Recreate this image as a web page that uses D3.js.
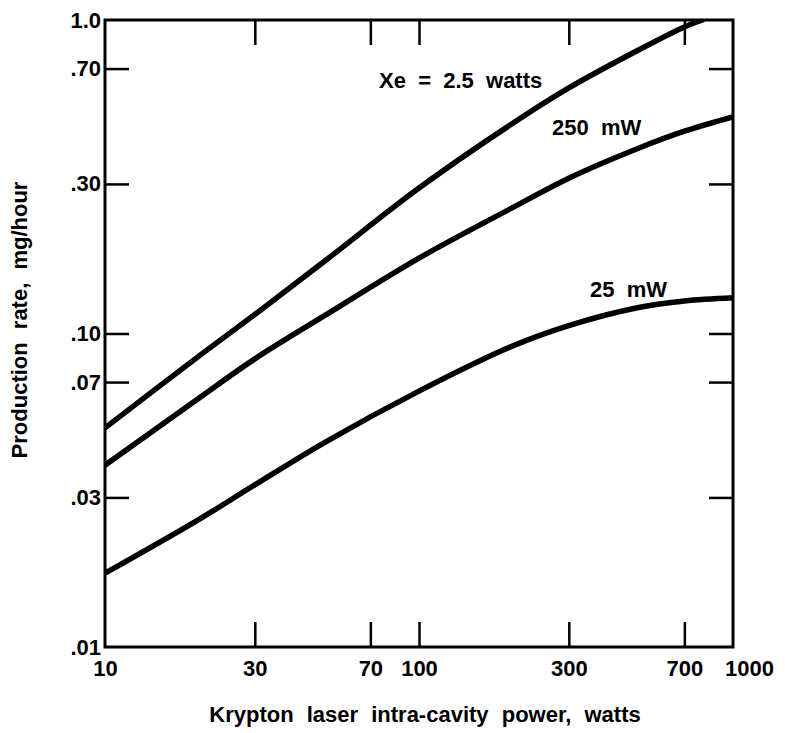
<!DOCTYPE html>
<html>
<head>
<meta charset="utf-8">
<script src="https://cdn.jsdelivr.net/npm/d3@7"></script>
<style>
  body { margin: 0; background: #fff; }
  svg text { font-family: "Liberation Sans", Arial, sans-serif; font-weight: bold; fill: #000; }
  .axis path { display: none; }
  .axis line { stroke: #000; stroke-width: 2.5; }
  .axis text { font-size: 22px; }
</style>
</head>
<body>
<svg id="chart" width="785" height="733"></svg>
<script>
/// data
var powerW = [10, 20, 30, 50, 100, 200, 300, 500, 700, 1000];

var xe2500 = [0.050, 0.085, 0.115, 0.170, 0.291, 0.470, 0.607, 0.802, 0.95, null];
var xe250  = [0.038, 0.0624, 0.083, 0.114, 0.174, 0.253, 0.313, 0.390, 0.442, 0.491];
var xe25   = [0.0172, 0.0256, 0.0329, 0.0449, 0.0655, 0.0915, 0.106, 0.121, 0.127, 0.130];

var xTicks = [10, 30, 70, 100, 300, 700, 1000];
var xTickLabels = ["10", "30", "70", "100", "300", "700", "1000"];
var yTicks = [0.01, 0.03, 0.07, 0.10, 0.30, 0.70, 1.0];
var yTickLabels = [".01", ".03", ".07", ".10", ".30", ".70", "1.0"];

var seriesNames = ["Xe  =  2.5  watts", "250  mW", "25  mW"];

/// layout
var frame = {left: 105, right: 733, top: 20, bottom: 647};
var tickLen = 25;

var svg = d3.select("#chart");

var x = d3.scaleLog().domain([10, 1000]).range([frame.left, frame.right]);
var y = d3.scaleLog().domain([0.01, 1]).range([frame.bottom, frame.top]);

// the 2.5 W curve leaves the frame at the top near 800 W
var topCross = 800;

// inner ticks (all four sides)
var innerX = xTicks.filter(d => d !== 10 && d !== 1000);
var innerY = yTicks.filter(d => d !== 0.01 && d !== 1.0);

svg.append("g")
   .attr("class", "axis")
   .attr("transform", "translate(0," + frame.bottom + ")")
   .call(d3.axisBottom(x).tickValues(innerX).tickSizeInner(-tickLen).tickSizeOuter(0).tickFormat(""));

svg.append("g")
   .attr("class", "axis")
   .attr("transform", "translate(0," + frame.top + ")")
   .call(d3.axisTop(x).tickValues(innerX).tickSizeInner(-tickLen).tickSizeOuter(0).tickFormat(""));

svg.append("g")
   .attr("class", "axis")
   .attr("transform", "translate(" + frame.left + ",0)")
   .call(d3.axisLeft(y).tickValues(innerY).tickSizeInner(-24).tickSizeOuter(0).tickFormat(""));

svg.append("g")
   .attr("class", "axis")
   .attr("transform", "translate(" + frame.right + ",0)")
   .call(d3.axisRight(y).tickValues(innerY).tickSizeInner(-24).tickSizeOuter(0).tickFormat(""));

// tick labels
var xLab = svg.append("g")
   .attr("class", "axis")
   .attr("transform", "translate(0," + frame.bottom + ")")
   .call(d3.axisBottom(x).tickValues(xTicks).tickSize(0).tickPadding(13)
           .tickFormat((d, i) => xTickLabels[i]));
xLab.selectAll("text").filter(d => d === 1000).attr("dx", 16);

svg.append("g")
   .attr("class", "axis")
   .attr("transform", "translate(" + frame.left + ",0)")
   .call(d3.axisLeft(y).tickValues(yTicks).tickSize(0).tickPadding(4)
           .tickFormat((d, i) => yTickLabels[i]));

// frame
svg.append("rect")
   .attr("x", frame.left)
   .attr("y", frame.top)
   .attr("width", frame.right - frame.left)
   .attr("height", frame.bottom - frame.top)
   .style("fill", "none")
   .style("stroke", "#000")
   .style("stroke-width", 3);

// curves
var line = d3.line()
   .x(d => x(d[0]))
   .y(d => y(d[1]))
   .curve(d3.curveCatmullRom.alpha(0.5));

var s2500 = powerW.map((p, i) => [p, xe2500[i]]).filter(d => d[1] != null && d[0] < topCross);
s2500.push([topCross, 1.0]);

var curves = [
  s2500,
  powerW.map((p, i) => [p, xe250[i]]),
  powerW.map((p, i) => [p, xe25[i]])
];

svg.append("clipPath").attr("id", "plotClip")
   .append("rect")
   .attr("x", frame.left).attr("y", frame.top)
   .attr("width", frame.right - frame.left)
   .attr("height", frame.bottom - frame.top);

svg.append("g")
   .attr("clip-path", "url(#plotClip)")
   .selectAll("path")
   .data(curves)
   .enter()
   .append("path")
   .attr("d", line)
   .style("fill", "none")
   .style("stroke", "#000")
   .style("stroke-width", 5.5)
   .style("stroke-linecap", "round");

// curve labels
var labelPos = [{x: 379, y: 88}, {x: 552, y: 135}, {x: 590, y: 297}];
svg.selectAll(".curveLabel")
   .data(seriesNames)
   .enter()
   .append("text")
   .attr("class", "curveLabel")
   .attr("x", (d, i) => labelPos[i].x)
   .attr("y", (d, i) => labelPos[i].y)
   .style("font-size", "22px")
   .style("white-space", "pre")
   .attr("xml:space", "preserve")
   .text(d => d);

// axis titles
svg.append("text")
   .attr("x", (frame.left + frame.right) / 2 + 6)
   .attr("y", 722)
   .attr("text-anchor", "middle")
   .style("font-size", "22px")
   .style("word-spacing", "7px")
   .text("Krypton laser intra-cavity power, watts");

svg.append("text")
   .attr("transform", "translate(27," + 320 + ") rotate(-90)")
   .attr("text-anchor", "middle")
   .style("font-size", "22px")
   .style("word-spacing", "7px")
   .text("Production rate, mg/hour");
</script>
</body>
</html>
